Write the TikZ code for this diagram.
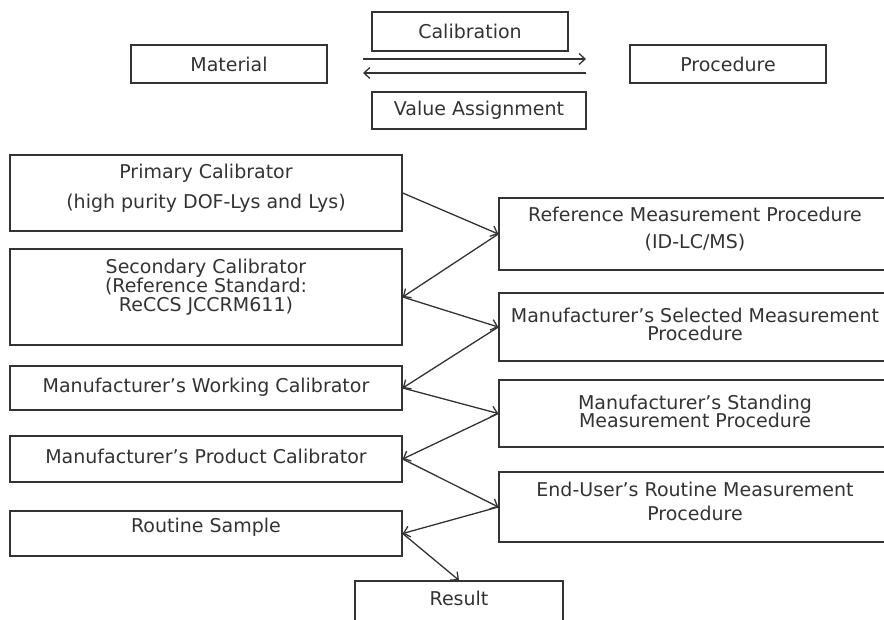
\documentclass[tikz,border=0pt]{standalone}
\usepackage{fontspec}
\setmainfont{DejaVu Sans}
\usetikzlibrary{arrows.meta}
\definecolor{ink}{HTML}{333333}
\tikzset{
  box/.style={draw=ink, line width=1.4pt, rectangle, inner sep=0pt},
  txt/.style={text=ink, align=center, font=\fontsize{19}{19}\selectfont, inner sep=0pt},
  conn/.style={draw=ink, line width=1.3pt, -{Straight Barb[length=6pt,width=11pt,line width=1.3pt]}}
}
\begin{document}
\begin{tikzpicture}[x=1pt,y=-1pt]
\useasboundingbox (0,0) rectangle (884,619);
% top legend
\node[box, minimum width=196pt, minimum height=38pt,
  label={[txt]center:Material}] (mat) at (229,64) {};
\node[box, minimum width=196pt, minimum height=39pt,
  label={[txt]center:Calibration}] (cal) at (470,31.5) {};
\node[box, minimum width=214pt, minimum height=37pt,
  label={[txt]center:Value Assignment}] (val) at (479,110.5) {};
\node[box, minimum width=196pt, minimum height=38pt,
  label={[txt]center:Procedure}] (proc) at (728,64) {};
\coordinate (r1) at (363,59);
\coordinate (r2) at (586,59);
\coordinate (l1) at (586,73);
\coordinate (l2) at (363,73);
\draw[conn] (r1) -- (r2);
\draw[conn] (l1) -- (l2);
% left column
\node[box, minimum width=392pt, minimum height=76pt,
  label={[txt, yshift=5pt]center:{Primary Calibrator\\[11pt](high purity DOF-Lys and Lys)}}] (prim) at (206,193) {};
\node[box, minimum width=392pt, minimum height=96pt,
  label={[txt, yshift=10pt]center:{Secondary Calibrator\\(Reference Standard:\\ReCCS JCCRM611)}}] (sec) at (206,297) {};
\node[box, minimum width=392pt, minimum height=44pt,
  label={[txt, yshift=1pt]center:{Manufacturer’s Working Calibrator}}] (work) at (206,388) {};
\node[box, minimum width=392pt, minimum height=46pt,
  label={[txt, yshift=3pt]center:{Manufacturer’s Product Calibrator}}] (prod) at (206,459) {};
\node[box, minimum width=392pt, minimum height=45pt,
  label={[txt, yshift=6pt]center:{Routine Sample}}] (rout) at (206,533.5) {};
% right column
\node[box, minimum width=392pt, minimum height=72pt,
  label={[txt, yshift=5pt]center:{Reference Measurement Procedure\\[8pt](ID-LC/MS)}}] (ref) at (695,234) {};
\node[box, minimum width=392pt, minimum height=68pt,
  label={[txt, yshift=3pt]center:{Manufacturer’s Selected Measurement\\[-1pt]Procedure}}] (sel) at (695,327) {};
\node[box, minimum width=392pt, minimum height=67pt,
  label={[txt, yshift=2pt]center:{Manufacturer’s Standing\\[-1pt]Measurement Procedure}}] (stand) at (695,413.5) {};
\node[box, minimum width=392pt, minimum height=70pt,
  label={[txt, yshift=6pt]center:{End-User’s Routine Measurement\\[5pt]Procedure}}] (enduser) at (695,507) {};
% result
\node[box, minimum width=208pt, minimum height=46pt,
  label={[txt, yshift=6pt]center:{Result}}] (res) at (459,604) {};
% connectors
\draw[conn] (prim.east) -- (ref.west);
\draw[conn] (ref.west) -- (sec.east);
\draw[conn] (sec.east) -- (sel.west);
\draw[conn] (sel.west) -- (work.east);
\draw[conn] (work.east) -- (stand.west);
\draw[conn] (stand.west) -- (prod.east);
\draw[conn] (prod.east) -- (enduser.west);
\draw[conn] (enduser.west) -- (rout.east);
\draw[conn] (rout.east) -- (res.north);
\end{tikzpicture}
\end{document}
